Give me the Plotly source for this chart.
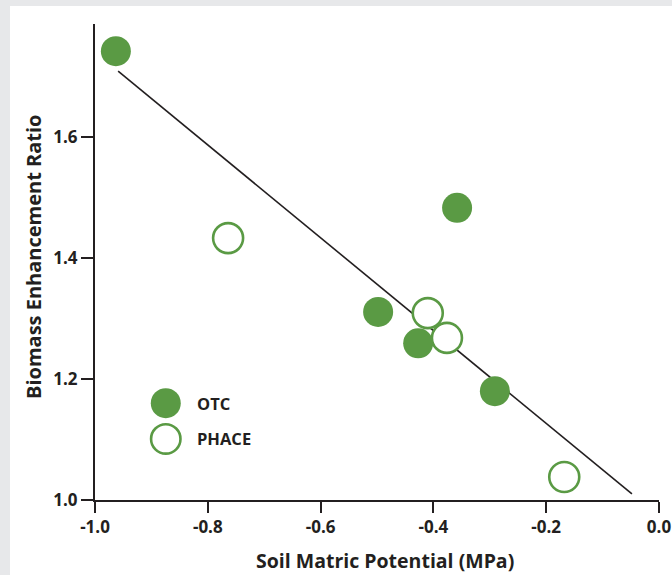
import plotly.graph_objects as go

# Data
otc_x = [-0.963, -0.358, -0.498, -0.427, -0.291]
otc_y = [1.742, 1.483, 1.311, 1.259, 1.180]
phace_x = [-0.764, -0.410, -0.376, -0.168]
phace_y = [1.433, 1.309, 1.268, 1.038]
fit_x = [-0.959, -0.048]
fit_y = [1.709, 1.010]
x_ticks = [-1.0, -0.8, -0.6, -0.4, -0.2, 0.0]
x_ticklabels = ["-1.0", "-0.8", "-0.6", "-0.4", "-0.2", "0.0"]
y_ticks = [1.0, 1.2, 1.4, 1.6]
y_ticklabels = ["1.0", "1.2", "1.4", "1.6"]
legend_names = ["OTC", "PHACE"]

GREEN = "#5a9a44"
INK = "#231f20"
FRAME = "#e7e8ea"
FONT = "Open Sans"

fig = go.Figure()
fig.add_trace(go.Scatter(x=fit_x, y=fit_y, mode="lines",
                         line=dict(color=INK, width=1.6), showlegend=False, hoverinfo="skip"))
fig.add_trace(go.Scatter(x=phace_x, y=phace_y, mode="markers", name=legend_names[1],
                         marker=dict(size=30, color="white", symbol="circle",
                                     line=dict(color=GREEN, width=2.6)), showlegend=False))
fig.add_trace(go.Scatter(x=otc_x, y=otc_y, mode="markers", name=legend_names[0],
                         marker=dict(size=30, color=GREEN, symbol="circle",
                                     line=dict(width=0)), showlegend=False))

W, H = 672, 575
ml, mr, mt, mb = 95, 13, 24, 75
pw, ph = W - ml - mr, H - mt - mb

def px_x(p):
    return (p - ml) / pw

def px_y(p):
    return (H - mb - p) / ph

shapes = [
    # gray frame: left and top strips
    dict(type="rect", xref="paper", yref="paper",
         x0=px_x(0), x1=px_x(10), y0=px_y(H), y1=px_y(0),
         fillcolor=FRAME, line=dict(width=0), layer="below"),
    dict(type="rect", xref="paper", yref="paper",
         x0=px_x(0), x1=px_x(W), y0=px_y(6), y1=px_y(0),
         fillcolor=FRAME, line=dict(width=0), layer="below"),
]
# legend keys
leg_x = -0.8745
leg_y = [1.160, 1.101]
shapes.append(dict(type="circle", xref="x", yref="y", xsizemode="pixel", ysizemode="pixel",
                   xanchor=leg_x, yanchor=leg_y[0], x0=-15, x1=15, y0=-15, y1=15,
                   fillcolor=GREEN, line=dict(width=0)))
shapes.append(dict(type="circle", xref="x", yref="y", xsizemode="pixel", ysizemode="pixel",
                   xanchor=leg_x, yanchor=leg_y[1], x0=-14.7, x1=14.7, y0=-14.7, y1=14.7,
                   fillcolor="white", line=dict(width=2.6, color=GREEN)))

annotations = [
    dict(x=-0.823, y=leg_y[i], xref="x", yref="y", text=legend_names[i], showarrow=False,
         xanchor="left", yanchor="middle",
         font=dict(family=FONT, size=16.5, color=INK, weight="bold"))
    for i in range(2)
]
# axis titles
annotations.append(dict(x=px_x(385), y=px_y(560), xref="paper", yref="paper",
                        text="Soil Matric Potential (MPa)", showarrow=False,
                        xanchor="center", yanchor="middle",
                        font=dict(family=FONT, size=19.5, color=INK, weight="bold")))
annotations.append(dict(x=px_x(33), y=px_y(257), xref="paper", yref="paper",
                        text="Biomass Enhancement Ratio", showarrow=False, textangle=-90,
                        xanchor="center", yanchor="middle",
                        font=dict(family=FONT, size=20, color=INK, weight="bold")))

fig.update_layout(
    width=W, height=H,
    margin=dict(l=ml, r=mr, t=mt, b=mb, pad=0, autoexpand=False),
    paper_bgcolor="white", plot_bgcolor="white",
    shapes=shapes, annotations=annotations,
    xaxis=dict(range=[-1.0, 0.0], tickvals=x_ticks, ticktext=x_ticklabels, automargin=False,
               showline=True, linecolor=INK, linewidth=2, ticks="outside", ticklen=11,
               tickwidth=2, tickcolor=INK, showgrid=False, zeroline=False,
               tickfont=dict(family=FONT, size=17, color=INK, weight="bold")),
    yaxis=dict(range=[1.0, 1.787], tickvals=y_ticks, ticktext=y_ticklabels, automargin=False,
               showline=True, linecolor=INK, linewidth=2, ticks="outside", ticklen=12,
               tickwidth=2, tickcolor=INK, showgrid=False, zeroline=False,
               tickfont=dict(family=FONT, size=17, color=INK, weight="bold")),
)

fig.write_html(
    "out.html",
    config={"displayModeBar": False},
    post_script=(
        "document.documentElement.style.margin='0';"
        "document.documentElement.style.overflow='hidden';"
        "document.body.style.margin='0';"
        "document.body.style.overflow='hidden';"
    ),
)
